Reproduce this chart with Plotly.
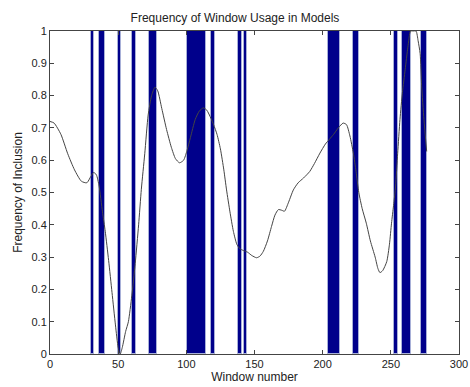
import plotly.graph_objects as go

# Window ranges used in models (start, end in window-number units)
bar_start = [30.1, 35.9, 49.7, 59.9, 72.6, 100.3, 118.1, 138.1, 142.1, 203.7, 222.5, 252.3, 258.4, 272.4]
bar_end   = [32.3, 40.6, 52.3, 62.9, 78.7, 114.4, 120.8, 140.8, 144.3, 212.7, 226.7, 255.0, 264.6, 276.3]

# Frequency of inclusion curve
curve_x = [0, 3, 8, 13, 18, 23, 27, 30, 32, 34, 36, 38.5, 40.5, 43, 45.5, 48, 50, 51.5, 53, 55.5,
           57.5, 60, 62.5, 65, 67, 69.5, 72, 74.5, 77, 79, 82, 85.5, 89, 92, 95, 98, 100.5, 103,
           106.5, 109.5, 112.5, 115, 118, 120, 122.5, 125, 127.5, 129.5, 132, 134.5, 137, 139,
           142, 145, 148, 151.5, 154, 156.5, 159.5, 162.5, 165, 167.5, 170, 172, 175, 178.5,
           182, 186, 190.5, 194, 198, 202, 205, 208, 211.5, 215, 217.5, 220, 222.5, 224.5,
           226.5, 229, 232, 235, 238.5, 240.5, 242, 244, 247, 249, 250.5, 252, 253.5, 255,
           256.7, 258.5, 260.5, 262.5, 264.5, 266.5, 268.5, 270, 271.5, 272.6, 274.3, 276.3]
curve_y = [0.72, 0.715, 0.68, 0.62, 0.57, 0.535, 0.53, 0.55, 0.562, 0.555, 0.52, 0.44, 0.38, 0.29,
           0.19, 0.09, 0.02, 0.0, 0.02, 0.07, 0.10, 0.18, 0.28, 0.40, 0.51, 0.62, 0.74, 0.80,
           0.826, 0.815, 0.76, 0.695, 0.64, 0.605, 0.592, 0.60, 0.63, 0.67, 0.726, 0.752, 0.762,
           0.755, 0.73, 0.71, 0.68, 0.635, 0.57, 0.508, 0.44, 0.38, 0.34, 0.327, 0.32, 0.315,
           0.305, 0.298, 0.303, 0.318, 0.35, 0.395, 0.43, 0.447, 0.445, 0.442, 0.47, 0.508,
           0.53, 0.545, 0.565, 0.59, 0.622, 0.65, 0.665, 0.68, 0.70, 0.715, 0.71, 0.675, 0.622,
           0.565, 0.5, 0.45, 0.405, 0.35, 0.30, 0.265, 0.252, 0.258, 0.286, 0.34, 0.405, 0.46,
           0.52, 0.62, 0.726, 0.81, 0.88, 0.95, 1.0, 1.0, 1.0, 0.97, 0.93, 0.83, 0.726, 0.627]

x_ticks = [0, 50, 100, 150, 200, 250, 300]
y_ticks = [0, 0.1, 0.2, 0.3, 0.4, 0.5, 0.6, 0.7, 0.8, 0.9, 1]
y_tick_labels = ["0", "0.1", "0.2", "0.3", "0.4", "0.5", "0.6", "0.7", "0.8", "0.9", "1"]

centers = [(a + b) / 2 for a, b in zip(bar_start, bar_end)]
widths = [b - a for a, b in zip(bar_start, bar_end)]

fig = go.Figure()
fig.add_trace(go.Bar(
    x=centers, y=[1] * len(centers), width=widths,
    marker=dict(color="#00008B", line=dict(color="#A8B0D8", width=1)),
    hoverinfo="skip", showlegend=False,
))
fig.add_trace(go.Scatter(
    x=curve_x, y=curve_y, mode="lines",
    line=dict(color="#444444", width=1, shape="spline", smoothing=0.6),
    showlegend=False,
))

font_family = "Liberation Sans, Arial, sans-serif"
fig.update_layout(
    width=470, height=387,
    margin=dict(l=50, r=11, t=31, b=33),
    paper_bgcolor="white", plot_bgcolor="white",
    bargap=0,
    font=dict(family=font_family, size=11, color="#222"),
    title=dict(text="Frequency of Window Usage in Models", x=0.5, xanchor="center",
               y=1 - 18 / 387, yanchor="middle", font=dict(size=12, color="#222")),
    xaxis=dict(range=[0, 300], tickvals=x_ticks, ticks="inside", ticklen=4, tickcolor="#444",
               showline=True, linecolor="#444", linewidth=1, mirror="ticks", showgrid=False,
               zeroline=False, automargin=False,
               title=dict(text="Window number", standoff=3, font=dict(size=12)),
               tickfont=dict(size=11)),
    yaxis=dict(range=[0, 1], tickvals=y_ticks, ticktext=y_tick_labels, ticks="inside", ticklen=4,
               tickcolor="#444", showline=True, linecolor="#444", linewidth=1, mirror="ticks",
               showgrid=False, zeroline=False, automargin=False,
               title=dict(text="Frequency of Inclusion", standoff=6, font=dict(size=12)),
               tickfont=dict(size=11)),
)

fig.write_html("out.html")
